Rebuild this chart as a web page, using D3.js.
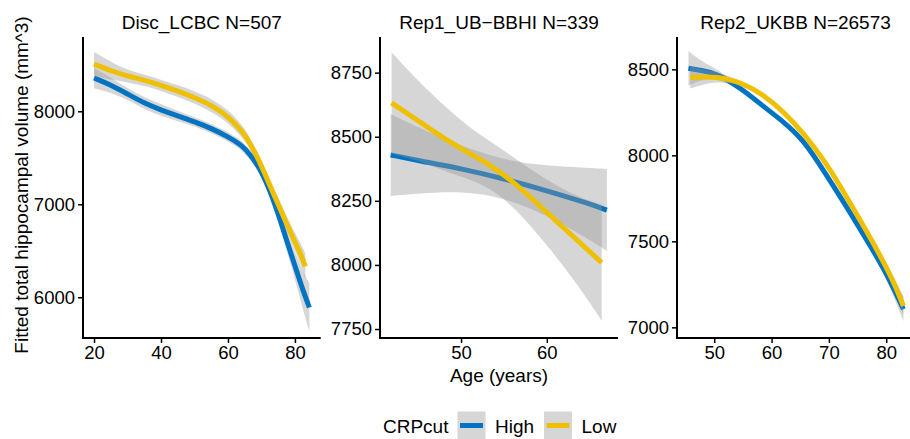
<!DOCTYPE html>
<html>
<head>
<meta charset="utf-8">
<script src="https://cdn.jsdelivr.net/npm/d3@7"></script>
<style>
  body { margin: 0; background: #fff; }
  svg { display: block; font-family: "Liberation Sans", Arial, sans-serif; }
</style>
</head>
<body>
<svg id="chart" width="910" height="439"></svg>
<script>
// ---- data (age in years, fitted volume, half-width of the CI band) ----
const groups = ["High", "Low"];
const groupColors = ["#0073C2", "#EFC000"];

const panelTitles = ["Disc_LCBC N=507", "Rep1_UB\u2212BBHI N=339", "Rep2_UKBB N=26573"];

// Disc_LCBC
const lcbcHighAge = [20, 25, 30, 35, 40, 45, 50, 55, 60, 63, 65, 68.5, 70.4, 72.4, 74.4, 76.4, 78.4, 80.4, 82.3, 84.3];
const lcbcHighFit = [8358, 8283, 8186, 8086, 8014, 7949, 7888, 7817, 7727, 7660, 7605, 7445, 7320, 7160, 6960, 6740, 6515, 6295, 6085, 5890];
const lcbcHighCi  = [110, 80, 60, 65, 65, 55, 50, 50, 50, 50, 50, 55, 60, 70, 80, 95, 120, 150, 200, 260];
const lcbcLowAge  = [20, 25.7, 30.7, 35.7, 40.6, 45.6, 50.6, 55.5, 60.5, 64.5, 65.5, 68.5, 70.4, 72.4, 74.4, 76.4, 78.4, 80.4, 82.3, 83.1];
const lcbcLowFit  = [8508, 8426, 8372, 8329, 8272, 8211, 8140, 8057, 7935, 7770, 7720, 7530, 7380, 7212, 7048, 6885, 6724, 6563, 6419, 6330];
const lcbcLowCi   = [130, 90, 65, 60, 60, 65, 65, 70, 70, 65, 60, 60, 60, 65, 70, 75, 85, 100, 120, 140];

// Rep1_UB-BBHI
const bbhiHighAge = [41.8, 45, 50, 55, 60, 65, 67];
const bbhiHighFit = [8429, 8407, 8376, 8336, 8290, 8238, 8214];
const bbhiHighCi  = [160, 129, 88, 72, 96, 140, 160];
const bbhiLowAge  = [41.9, 45, 48.3, 51, 53.4, 56.1, 60, 63.9, 66.4];
const bbhiLowFit  = [8632, 8562, 8487, 8435, 8390, 8325, 8205, 8085, 8009];
const bbhiLowCi   = [198, 155, 125, 100, 92, 95, 125, 175, 227];

// Rep2_UKBB
const ukbbHighAge = [45.5, 48, 50.5, 55.1, 58.6, 62.1, 65.6, 69.3, 73.1, 76.6, 80.1, 83.0];
const ukbbHighFit = [8506, 8492, 8477, 8380, 8283, 8195, 8089, 7900, 7701, 7508, 7314, 7105];
const ukbbHighCi  = [100, 50, 25, 15, 12, 10, 10, 12, 15, 20, 30, 70];
const ukbbLowAge  = [45.8, 50.5, 55.1, 58.6, 62.1, 65.6, 69.1, 72.0, 74.2, 77.7, 81.2, 83.0];
const ukbbLowFit  = [8453, 8461, 8419, 8351, 8254, 8128, 7975, 7820, 7695, 7495, 7275, 7125];
const ukbbLowCi   = [65, 25, 12, 10, 10, 10, 10, 12, 14, 20, 30, 55];

const xTicks = [[20, 40, 60, 80], [50, 60], [50, 60, 70, 80]];
const yTicks = [[6000, 7000, 8000], [7750, 8000, 8250, 8500, 8750], [7000, 7500, 8000, 8500]];
const xDomains = [[16.7, 87.7], [40.55, 68.3], [43.5, 84.85]];
const yDomains = [[5562, 8799], [7715, 8889], [6938, 8688]];

// ---- layout ----
const panelX = [[83, 320.7], [380, 618], [677, 914]];
const panelTop = 37, panelBottom = 338;
const font = "Liberation Sans, Arial, sans-serif";

const series = [
  [[lcbcHighAge, lcbcHighFit, lcbcHighCi], [lcbcLowAge, lcbcLowFit, lcbcLowCi]],
  [[bbhiHighAge, bbhiHighFit, bbhiHighCi], [bbhiLowAge, bbhiLowFit, bbhiLowCi]],
  [[ukbbHighAge, ukbbHighFit, ukbbHighCi], [ukbbLowAge, ukbbLowFit, ukbbLowCi]]
];

const svg = d3.select("#chart");

series.forEach((panel, p) => {
  const x = d3.scaleLinear().domain(xDomains[p]).range(panelX[p]);
  const y = d3.scaleLinear().domain(yDomains[p]).range([panelBottom, panelTop]);
  const g = svg.append("g");

  // ribbon + line per group, drawn in group order like geom_smooth
  panel.forEach((s, i) => {
    const pts = s[0].map((a, k) => ({ age: a, fit: s[1][k], ci: s[2][k] }));
    const area = d3.area()
      .x(d => x(d.age))
      .y0(d => y(d.fit - d.ci))
      .y1(d => y(d.fit + d.ci))
      .curve(d3.curveBasis);
    const line = d3.line()
      .x(d => x(d.age))
      .y(d => y(d.fit))
      .curve(d3.curveBasis);
    g.append("path").datum(pts)
      .attr("d", area)
      .attr("fill", "#999999")
      .attr("fill-opacity", 0.4);
    g.append("path").datum(pts)
      .attr("d", line)
      .attr("fill", "none")
      .attr("stroke", groupColors[i])
      .attr("stroke-width", 5);
  });

  // axes
  const xAxis = g.append("g")
    .attr("transform", `translate(0,${panelBottom})`)
    .call(d3.axisBottom(x).tickValues(xTicks[p]).tickFormat(d3.format("d"))
      .tickSize(5).tickPadding(3).tickSizeOuter(0));
  const yAxis = g.append("g")
    .attr("transform", `translate(${panelX[p][0]},0)`)
    .call(d3.axisLeft(y).tickValues(yTicks[p]).tickFormat(d3.format("d"))
      .tickSize(5).tickPadding(3).tickSizeOuter(0));
  [xAxis, yAxis].forEach(a => {
    a.select(".domain").attr("stroke", "#000").attr("stroke-width", 2);
    a.selectAll(".tick line").attr("stroke", "#000").attr("stroke-width", 1.5);
    a.selectAll(".tick text").attr("fill", "#000")
      .style("font-size", "18.5px").style("font-family", font);
  });
  // extend domain lines to panel corner
  xAxis.select(".domain").attr("d", `M${panelX[p][0] - 1},0H${panelX[p][1]}`);
  yAxis.select(".domain").attr("d", `M0,${panelTop}V${panelBottom + 1}`);

  // panel title
  svg.append("text")
    .attr("x", (panelX[p][0] + panelX[p][1]) / 2)
    .attr("y", 28.5)
    .attr("text-anchor", "middle")
    .style("font-size", "19px")
    .text(panelTitles[p]);
});

// axis titles
svg.append("text")
  .attr("x", 499).attr("y", 381.5)
  .attr("text-anchor", "middle")
  .style("font-size", "19px")
  .text("Age (years)");

svg.append("text")
  .attr("transform", "translate(27.5,185) rotate(-90)")
  .attr("text-anchor", "middle")
  .style("font-size", "19px")
  .text("Fitted total hippocampal volume (mm^3)");

// legend
const leg = svg.append("g");
leg.append("text").attr("x", 383).attr("y", 433).style("font-size", "19px").text("CRPcut");
const keyX = [457.5, 544];
const labelX = [495, 581.5];
groups.forEach((name, i) => {
  leg.append("rect")
    .attr("x", keyX[i]).attr("y", 411.5)
    .attr("width", 28).attr("height", 28)
    .attr("fill", "#999999").attr("fill-opacity", 0.4);
  leg.append("line")
    .attr("x1", keyX[i] + 2.5).attr("x2", keyX[i] + 25.5)
    .attr("y1", 425.5).attr("y2", 425.5)
    .attr("stroke", groupColors[i]).attr("stroke-width", 5);
  leg.append("text").attr("x", labelX[i]).attr("y", 433)
    .style("font-size", "19px").text(name);
});
</script>
</body>
</html>
